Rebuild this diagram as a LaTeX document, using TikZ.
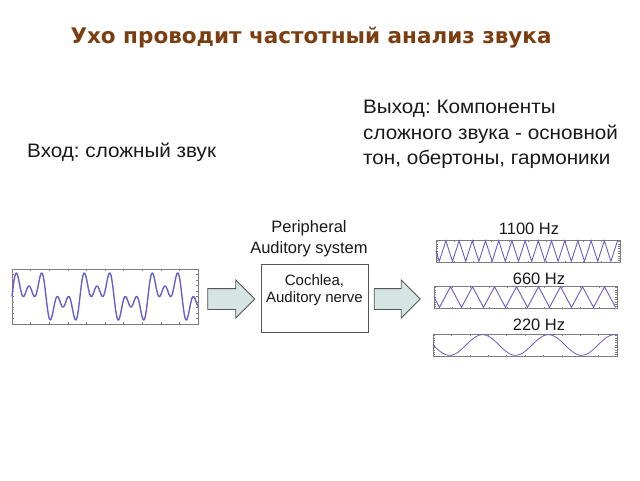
\documentclass[tikz,border=0pt]{standalone}
\usepackage{fontspec}
\setmainfont{Liberation Sans}
\newfontfamily\titlefont{DejaVu Sans}
\newfontfamily\rufont[FakeStretch=1.06]{Liberation Sans}
\usetikzlibrary{shapes.arrows}
\definecolor{titlebrown}{RGB}{122,62,16}
\definecolor{wave}{RGB}{104,96,196}
\definecolor{arrowfill}{RGB}{212,229,227}
\definecolor{framegray}{RGB}{125,125,125}
\definecolor{boxgray}{RGB}{85,85,85}
\definecolor{textdark}{RGB}{25,25,25}
\frenchspacing
\tikzset{
  plotframe/.style={draw=framegray, line width=0.6pt, inner sep=0pt},
  tickmark/.style={draw=framegray, line width=0.4pt},
  bigarrow/.style={single arrow, draw=boxgray, fill=arrowfill, line width=0.8pt,
    inner sep=10pt, minimum width=37pt, single arrow head extend=8.5pt},
  wavecomp/.style={wave, line width=0.9pt},
  hzlabel/.style={font=\fontsize{16.5}{19}\selectfont, text=textdark},
  rutext/.style={font=\rufont\fontsize{19.5}{25.5}\selectfont, text=textdark, inner sep=0pt},
}
\begin{document}
\begin{tikzpicture}[x=1pt,y=-1pt]
\useasboundingbox (0,0) rectangle (640,480);

% title
\node[font=\titlefont\bfseries\fontsize{21.5}{26}\selectfont, text=titlebrown] (title) at (311,38) {Ухо проводит частотный анализ звука};

% input / output texts
\node[rutext, anchor=west] (inlabel) at (27,152) {Вход: сложный звук};
\node[rutext, anchor=north west, align=left] (outlabel) at (363,100) {Выход: Компоненты\\сложного звука - основной\\тон, обертоны, гармоники};

% input plot
\node[plotframe, minimum width=186pt, minimum height=55pt] (inplot) at (105,296.5) {};
\foreach \i in {1,...,9} {
  \draw[tickmark] (12+18.6*\i,324) -- ++(0,-2);
  \draw[tickmark] (12+18.6*\i,269) -- ++(0,2);
}
\foreach \i in {1,...,9} {
  \draw[tickmark] (12,269+5.5*\i) -- ++(2,0);
  \draw[tickmark] (198,269+5.5*\i) -- ++(-2,0);
}
\draw[wave, line width=1.4pt] plot[domain=0:186, samples=400, smooth]
  ({12+\x}, {296.5-10.5*(sin(5.29412*\x)+sin(15.88235*\x)+sin(26.47059*\x))});

% arrows
\node[bigarrow, minimum height=47pt] (arrowin) at (226,299) {};
\node[bigarrow, minimum height=46pt] (arrowout) at (392,299) {};

% peripheral system
\node[align=center, font=\fontsize{16.5}{21}\selectfont, text=textdark] (periph) at (309,238.5) {Peripheral\\Auditory system};
\node[draw=boxgray, line width=0.8pt, fill=white, minimum width=107pt, minimum height=68pt] (cochleabox) at (314.5,298) {};
\node[align=center, font=\fontsize{15}{17.5}\selectfont, text=textdark] (cochleatext) at (314.5,290) {Cochlea,\\Auditory nerve};

% output plots
\node[hzlabel] (hz1100) at (529,229) {1100 Hz};
\node[hzlabel] (hz660) at (539,279) {660 Hz};
\node[hzlabel] (hz220) at (539,325) {220 Hz};

\node[plotframe, minimum width=184pt, minimum height=22pt] (plot1100) at (528,251) {};
\node[plotframe, minimum width=183pt, minimum height=22pt] (plot660) at (525.5,297) {};
\node[plotframe, minimum width=184pt, minimum height=22pt] (plot220) at (525,345) {};

\foreach \xo/\yc/\w in {436/251/184, 434/297/183, 433/345/184} {
  \foreach \i in {1,...,9} {
    \draw[tickmark] ({\xo+\w*\i/10},\yc+11) -- ++(0,-1.5);
    \draw[tickmark] ({\xo+\w*\i/10},\yc-11) -- ++(0,1.5);
  }
  \foreach \j in {-4,...,4} {
    \draw[tickmark] (\xo,\yc+2.4*\j) -- ++(2,0);
    \draw[tickmark] ({\xo+\w},\yc+2.4*\j) -- ++(-2,0);
  }
}

\draw[wavecomp] plot[domain=0:181.5, samples=56] ({436+\x}, {251+10.3*sin(27.27273*\x)});
\draw[wavecomp] plot[domain=0:181.5, samples=34] ({434+\x}, {297+10.3*sin(16.36364*\x)});
\draw[wavecomp, line width=0.8pt] plot[domain=0:184, samples=200, smooth] ({433+\x}, {345+10.3*sin(5.45455*\x)});
\end{tikzpicture}
\end{document}
